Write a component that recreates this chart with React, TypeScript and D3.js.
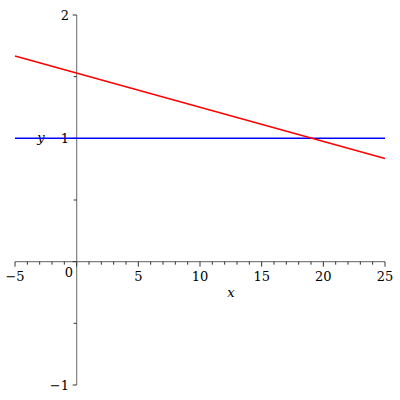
import React from "react";
import * as d3 from "d3";

const redX = [-5, 25];
const redY = [1.667, 0.837];
const blueX = [-5, 25];
const blueY = [1, 1];
const xMajor = [-5, 5, 10, 15, 20, 25];
const yMajor = [-1, 1, 2];

export default function App() {
  const W = 400, H = 400;
  const x = d3.scaleLinear().domain([-5, 25]).range([15, 385]);
  const y = d3.scaleLinear().domain([-1, 2]).range([385, 15]);
  const line = d3.line<[number, number]>().x(d => x(d[0])).y(d => y(d[1]));
  const red: [number, number][] = redX.map((v, i) => [v, redY[i]]);
  const blue: [number, number][] = blueX.map((v, i) => [v, blueY[i]]);
  const xMinor = d3.range(-5, 26, 1);
  const yMinor = d3.range(-1, 2.01, 0.5);
  const fmt = (v: number) => (v < 0 ? "\u2212" + Math.abs(v) : String(v));
  const font = "'DejaVu Serif', 'Liberation Serif', serif";
  const ts: React.CSSProperties = { fontFamily: font, fontSize: 13 };
  return (
    <svg width={W} height={H} style={{ position: "absolute", left: 0, top: 0 }}>
      <rect width={W} height={H} fill="white" />
      <line x1={x(-5)} x2={x(25)} y1={y(0)} y2={y(0)} stroke="#808080" strokeWidth={1.2} />
      <line x1={x(0)} x2={x(0)} y1={y(-1)} y2={y(2)} stroke="#808080" strokeWidth={1.2} />
      {xMinor.map(v => (
        <line key={"xm" + v} x1={x(v)} x2={x(v)} y1={y(0)} y2={y(0) + (v % 5 === 0 ? 5 : 3)} stroke="#333" strokeWidth={1} />
      ))}
      {yMinor.map(v => (
        <line key={"ym" + v} x1={x(0)} x2={x(0) - (Number.isInteger(v) ? 4 : 3)} y1={y(v)} y2={y(v)} stroke="#333" strokeWidth={1} />
      ))}
      {xMajor.map(v => (
        <text key={"xl" + v} x={x(v)} y={281} style={ts} textAnchor="middle">{fmt(v)}</text>
      ))}
      <text x={69} y={277} style={ts} textAnchor="middle">0</text>
      {yMajor.map(v => (
        <text key={"yl" + v} x={69} y={y(v) + 4.5} style={ts} textAnchor="end">{fmt(v)}</text>
      ))}
      <text x={231} y={297} style={{ ...ts, fontStyle: "italic" }} textAnchor="middle">x</text>
      <text x={41} y={142} style={{ ...ts, fontStyle: "italic" }} textAnchor="middle">y</text>
      <path d={line(blue) || ""} fill="none" stroke="#0000ff" strokeWidth={1.5} />
      <path d={line(red) || ""} fill="none" stroke="#ff0000" strokeWidth={1.5} />
    </svg>
  );
}
